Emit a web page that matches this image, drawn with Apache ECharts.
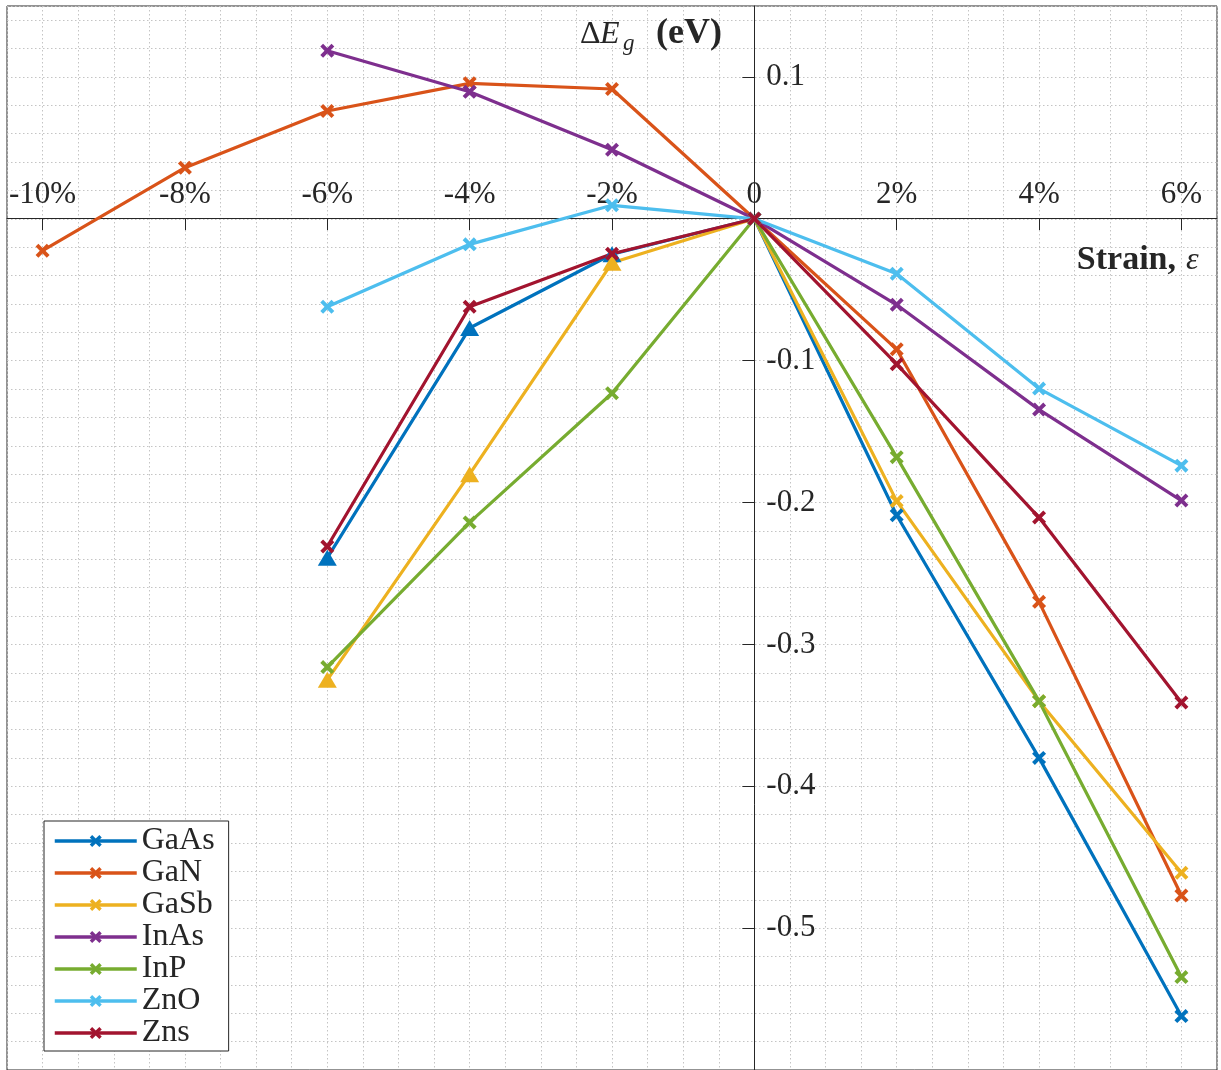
<!DOCTYPE html>
<html>
<head>
<meta charset="utf-8">
<title>Band gap change under strain</title>
<script src="https://cdn.jsdelivr.net/npm/echarts@6/dist/echarts.min.js"></script>
<style>
  html, body { margin: 0; padding: 0; background: #ffffff; }
  #chart { width: 1221px; height: 1070px; }
</style>
</head>
<body>
<div id="chart"></div>
<script>
// Strain points (in %) and band-gap change ΔEg (eV) for each material
const strainWide = [-10, -8, -6, -4, -2, 0, 2, 4, 6];
const strain = [-6, -4, -2, 0, 2, 4, 6];

const materials = ['GaAs', 'GaN', 'GaSb', 'InAs', 'InP', 'ZnO', 'Zns'];
const colors = ['#0072BD', '#D95319', '#EDB120', '#7E2F8E', '#77AC30', '#4DBEEE', '#A2142F'];

const gaAs = [-0.239, -0.077, -0.025, 0, -0.209, -0.380, -0.562];
const gaN  = [-0.0225, 0.036, 0.076, 0.0955, 0.0915, 0, -0.092, -0.270, -0.477];
const gaSb = [-0.325, -0.180, -0.031, 0, -0.199, -0.340, -0.461];
const inAs = [0.1185, 0.0895, 0.0487, 0, -0.0606, -0.1345, -0.1986];
const inP  = [-0.316, -0.214, -0.123, 0, -0.168, -0.340, -0.5345];
const znO  = [-0.062, -0.018, 0.0095, 0, -0.0387, -0.1197, -0.174];
const znS  = [-0.231, -0.062, -0.0246, 0, -0.1025, -0.2106, -0.341];

// Compressive-strain points drawn with a filled triangle instead of a cross
const triangleStrainGaAs = [-6, -4, -2];
const triangleStrainGaSb = [-6, -4, -2];

// Tick positions and labels
const xTickValues = [-10, -8, -6, -4, -2, 0, 2, 4, 6];
const yTickValues = [0.1, -0.1, -0.2, -0.3, -0.4, -0.5];

const seriesValues = [gaAs, gaN, gaSb, inAs, inP, znO, znS];
const seriesStrain = [strain, strainWide, strain, strain, strain, strain, strain];
const seriesTriangles = [triangleStrainGaAs, [], triangleStrainGaSb, [], [], [], []];

// Plot frame and axis ranges
const gridLeft = 7, gridTop = 6, gridWidth = 1210, gridHeight = 1065;
const xMin = -10.5, xMax = 6.5;
const yMin = -0.6, yMax = 0.15;

// Axes cross at the origin: shift each labelled axis from the frame edge to zero
const zeroY = gridTop + (yMax / (yMax - yMin)) * gridHeight;
const zeroX = gridLeft + (-xMin / (xMax - xMin)) * gridWidth;
const xAxisOffset = -(gridTop + gridHeight - zeroY);
const yAxisOffset = -(zeroX - gridLeft);

// A thick "x" cross drawn as a filled outline
const crossSymbol = 'path://M0,4 L4,0 L10,6 L16,0 L20,4 L14,10 L20,16 L16,20 L10,14 L4,20 L0,16 L6,10 Z';

const ink = '#262626';
const serif = '"Liberation Serif", "DejaVu Serif", serif';
const gridLine = { color: '#c4c4c4', width: 1, type: [1.5, 2.5] };

const series = materials.map((name, i) => ({
  name: name,
  type: 'line',
  xAxisIndex: 0,
  yAxisIndex: 0,
  symbol: crossSymbol,
  symbolSize: 14,
  showAllSymbol: true,
  lineStyle: { color: colors[i], width: 3.2 },
  itemStyle: { color: colors[i] },
  emphasis: { disabled: true },
  data: seriesStrain[i].map((x, k) => {
    const point = { value: [x, seriesValues[i][k]] };
    if (seriesTriangles[i].indexOf(x) >= 0) {
      point.symbol = 'triangle';
      point.symbolSize = [19, 16];
    }
    return point;
  })
}));

const chart = echarts.init(document.getElementById('chart'), null, { renderer: 'canvas' });

chart.setOption({
  animation: false,
  backgroundColor: '#ffffff',
  grid: {
    left: gridLeft, top: gridTop, width: gridWidth, height: gridHeight,
    show: true, borderColor: ink, borderWidth: 1, backgroundColor: 'transparent'
  },
  xAxis: [
    {
      // fine dotted grid every 0.5 %
      type: 'value', min: xMin, max: xMax, interval: 0.5,
      position: 'bottom',
      axisLine: { show: false }, axisTick: { show: false }, axisLabel: { show: false },
      splitLine: { show: true, lineStyle: gridLine }
    },
    {
      // axis line through ΔEg = 0 with labelled ticks
      type: 'value', min: xMin, max: xMax,
      position: 'bottom', offset: xAxisOffset,
      axisLine: { show: true, onZero: false, lineStyle: { color: ink, width: 1 } },
      axisTick: { show: true, inside: false, length: 12, customValues: xTickValues, lineStyle: { color: ink, width: 1 } },
      axisLabel: {
        show: true, inside: true, margin: 8, customValues: xTickValues,
        color: ink, fontFamily: serif, fontSize: 31,
        formatter: v => (v === 0 ? '0' : v + '%')
      },
      splitLine: { show: false }
    }
  ],
  yAxis: [
    {
      // fine dotted grid every 0.02 eV
      type: 'value', min: yMin, max: yMax, interval: 0.02,
      position: 'left',
      axisLine: { show: false }, axisTick: { show: false }, axisLabel: { show: false },
      splitLine: { show: true, lineStyle: gridLine }
    },
    {
      // axis line through zero strain with labelled ticks
      type: 'value', min: yMin, max: yMax,
      position: 'left', offset: yAxisOffset,
      axisLine: { show: true, onZero: false, lineStyle: { color: ink, width: 1 } },
      axisTick: { show: true, inside: false, length: 12, customValues: yTickValues, lineStyle: { color: ink, width: 1 } },
      axisLabel: {
        show: true, inside: true, margin: 12, customValues: yTickValues,
        color: ink, fontFamily: serif, fontSize: 31,
        formatter: v => v.toFixed(1)
      },
      splitLine: { show: false }
    }
  ],
  legend: {
    orient: 'vertical',
    left: 44, top: 821,
    padding: [4, 14, 2, 9],
    itemGap: 0,
    itemWidth: 82,
    itemHeight: 15,
    borderColor: ink, borderWidth: 1, borderRadius: 0,
    backgroundColor: '#ffffff',
    selectedMode: false,
    data: materials,
    lineStyle: { width: 3.5 },
    textStyle: { color: ink, fontFamily: serif, fontSize: 32, lineHeight: 31.5 }
  },
  graphic: [
    { type: 'text', x: 580, y: 35, z: 100, style: { text: 'Δ', fill: ink, font: '32px ' + serif, verticalAlign: 'middle' } },
    { type: 'text', x: 600, y: 35, z: 100, style: { text: 'E', fill: ink, font: 'italic 32px ' + serif, verticalAlign: 'middle' } },
    { type: 'text', x: 623, y: 44, z: 100, style: { text: 'g', fill: ink, font: 'italic 23px ' + serif, verticalAlign: 'middle' } },
    { type: 'text', x: 656, y: 34, z: 100, style: { text: '(eV)', fill: ink, font: 'bold 36px ' + serif, verticalAlign: 'middle' } },
    { type: 'text', x: 1176, y: 260, z: 100, style: { text: 'Strain,', fill: ink, font: 'bold 34px ' + serif, align: 'right', verticalAlign: 'middle' } },
    { type: 'text', x: 1186, y: 261, z: 100, style: { text: 'ε', fill: ink, font: 'italic 32px ' + serif, verticalAlign: 'middle' } }
  ],
  series: series
});
</script>
</body>
</html>
